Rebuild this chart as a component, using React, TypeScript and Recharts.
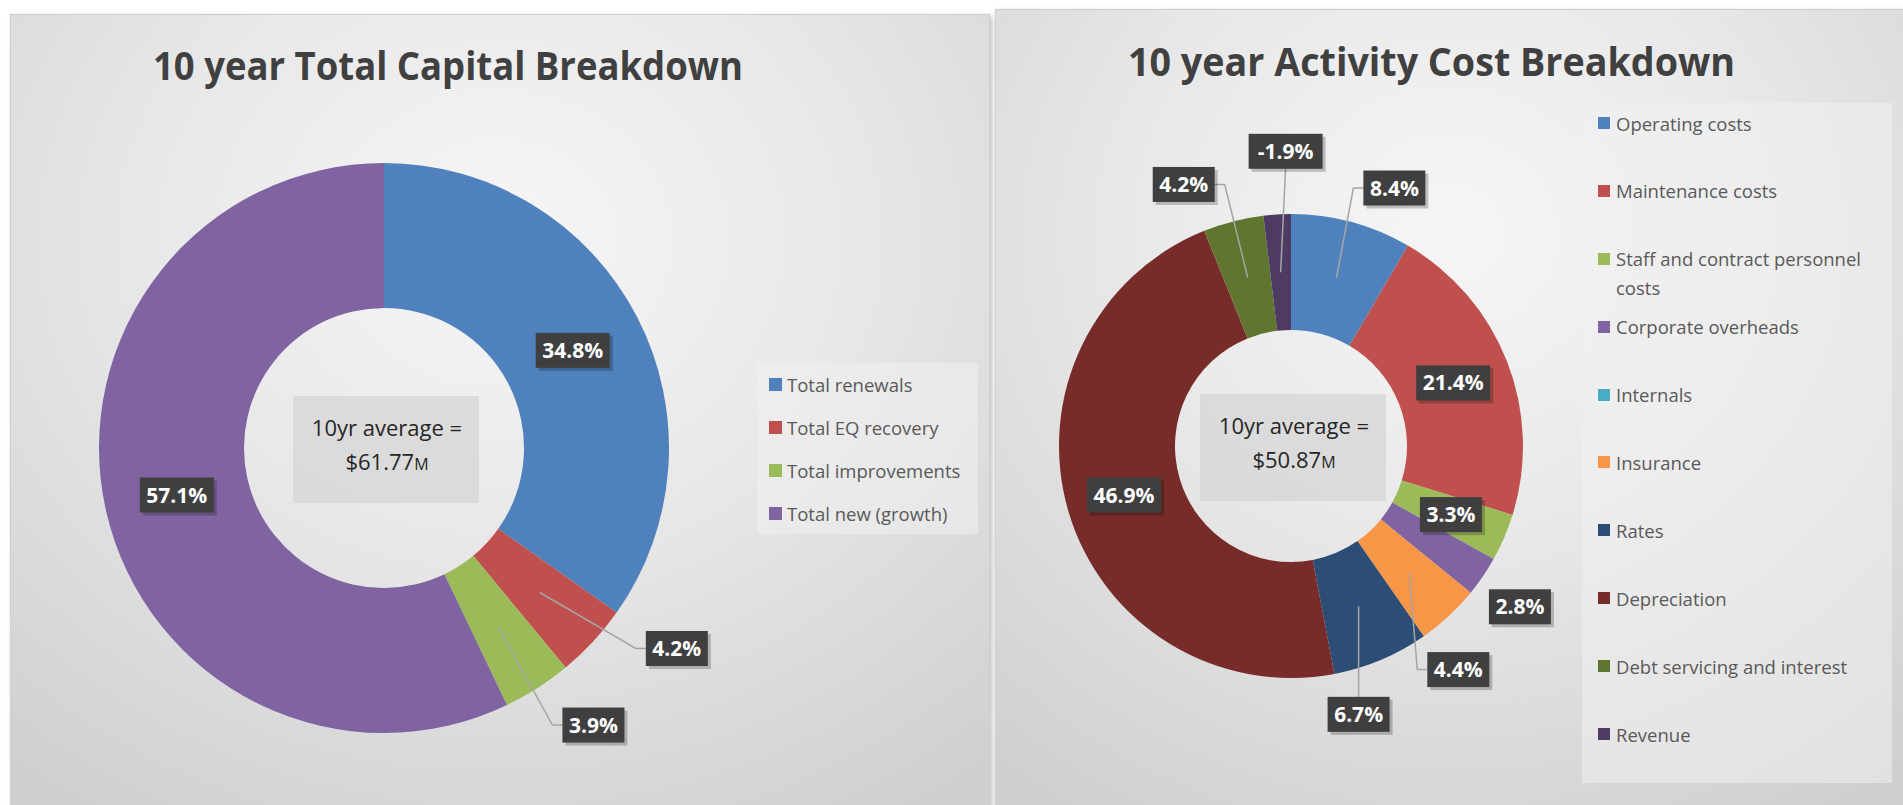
import React from 'react';
import { PieChart, Pie, Cell, Legend } from 'recharts';

// left chart: capital breakdown (% of 10yr total)
const capitalNames = ['Total renewals', 'Total EQ recovery', 'Total improvements', 'Total new (growth)'];
const capitalValues = [34.8, 4.2, 3.9, 57.1];
const capitalColors = ['#4f81bd', '#c0504d', '#9bbb59', '#8064a2'];
const capitalAverage = '$61.77';

// right chart: activity cost breakdown (% of 10yr total)
const activityNames = [
  'Operating costs',
  'Maintenance costs',
  'Staff and contract personnel costs',
  'Corporate overheads',
  'Internals',
  'Insurance',
  'Rates',
  'Depreciation',
  'Debt servicing and interest',
  'Revenue',
];
const activityValues = [8.4, 21.4, 3.3, 2.8, 0, 4.4, 6.7, 46.9, 4.2, -1.9];
const activityColors = [
  '#4f81bd', '#c0504d', '#9bbb59', '#8064a2', '#4bacc6',
  '#f79646', '#2c4d75', '#772c2a', '#5f7530', '#4d3b62',
];
const activityAverage = '$50.87';

// label offsets from the slice centroid (null = no label)
type Place = { dx: number; dy: number; leader: boolean } | null;
const capitalPlaces: Place[] = [
  { dx: 0, dy: 0, leader: false },
  { dx: 137, dy: 56, leader: true },
  { dx: 95, dy: 98, leader: true },
  { dx: 0, dy: 0, leader: false },
];
const activityPlaces: Place[] = [
  { dx: 58, dy: -90, leader: true },
  { dx: 0, dy: 0, leader: false },
  { dx: 0, dy: 0, leader: false },
  { dx: 85, dy: 63, leader: false },
  null,
  { dx: 49, dy: 96, leader: true },
  { dx: 0, dy: 108, leader: true },
  { dx: 0, dy: 0, leader: false },
  { dx: -64, dy: -93, leader: true },
  { dx: 5, dy: -121, leader: true },
];

const RAD = Math.PI / 180;
const FONT = '"Open Sans", "DejaVu Sans", sans-serif';
const panelBg =
  'radial-gradient(ellipse 80% 85% at 50% 28%, #f6f6f6 0%, #e8e8e8 45%, #cfcfcf 100%)';

function makeLabel(values: number[], places: Place[]) {
  return (props: any) => {
    const { cx, cy, midAngle, innerRadius, outerRadius, index } = props;
    const place = places[index];
    if (!place) return null;
    const r = (innerRadius + outerRadius) / 2;
    const sx = cx + r * Math.cos(-midAngle * RAD);
    const sy = cy + r * Math.sin(-midAngle * RAD);
    const bx = sx + place.dx;
    const by = sy + place.dy;
    const text = `${values[index].toFixed(1)}%`;
    const w = text.length * 12 + 14;
    const h = 35;
    let leader = null;
    if (place.leader) {
      if (Math.abs(bx - sx) <= w / 2) {
        const ey = by > sy ? by - h / 2 : by + h / 2;
        leader = <polyline points={`${sx},${sy} ${bx},${ey}`} fill="none" stroke="#a5a5a5" strokeWidth={1.5} />;
      } else {
        const edge = bx > sx ? bx - w / 2 : bx + w / 2;
        const elbow = bx > sx ? edge - 10 : edge + 10;
        leader = (
          <polyline
            points={`${sx},${sy} ${elbow},${by} ${edge},${by}`}
            fill="none"
            stroke="#a5a5a5"
            strokeWidth={1.5}
          />
        );
      }
    }
    return (
      <g key={`lbl-${index}`}>
        {leader}
        <rect x={bx - w / 2 + 3} y={by - h / 2 + 3} width={w} height={h} fill="rgba(0,0,0,0.22)" />
        <rect x={bx - w / 2} y={by - h / 2} width={w} height={h} fill="#3f3f3f" />
        <text
          x={bx}
          y={by + 7.5}
          textAnchor="middle"
          fill="#ffffff"
          fontFamily={FONT}
          fontWeight={700}
          fontSize={21}
        >
          {text}
        </text>
      </g>
    );
  };
}

// legend keeps the data order (recharts sorts its payload by name)
function makeLegend(names: string[], colors: string[], opts: any) {
  return () => (
    <div
      style={{
        width: opts.width,
        height: opts.height,
        boxSizing: 'border-box',
        paddingTop: opts.padTop,
        paddingLeft: opts.padLeft,
        background: 'rgba(240,240,240,0.55)',
        fontFamily: FONT,
        fontSize: opts.fontSize,
        color: '#595959',
        textAlign: 'left',
      }}
    >
      {names.map((name, i) => (
        <div key={name} style={{ display: 'flex', alignItems: 'flex-start', height: opts.rowH }}>
          <span
            style={{
              flex: 'none',
              width: opts.marker,
              height: opts.marker,
              marginTop: opts.lineH / 2 - opts.marker / 2,
              background: colors[i],
            }}
          />
          <span style={{ marginLeft: opts.gap, lineHeight: `${opts.lineH}px`, maxWidth: opts.textW }}>{name}</span>
        </div>
      ))}
    </div>
  );
}

function Donut(p: {
  left: number; top: number; width: number; height: number;
  cx: number; cy: number; inner: number; outer: number;
  names: string[]; values: number[]; colors: string[]; places: Place[];
  title: string; titleX: number; titleY: number; titleW: number;
  average: string; legendBox: any; legendOpts: any;
}) {
  const rows = p.names.map((name, i) => ({ name, share: Math.abs(p.values[i]) }));
  return (
    <div
      style={{
        position: 'absolute',
        left: p.left,
        top: p.top,
        width: p.width,
        height: p.height,
        background: panelBg,
        border: '1px solid #cfcfcf',
        boxShadow: '2px 2px 5px rgba(0,0,0,0.25)',
        boxSizing: 'border-box',
      }}
    >
      <PieChart width={p.width - 2} height={p.height - 2} margin={{ top: 0, right: 0, bottom: 0, left: 0 }}>
        <Pie
          data={rows}
          dataKey="share"
          nameKey="name"
          cx={p.cx}
          cy={p.cy}
          innerRadius={p.inner}
          outerRadius={p.outer}
          startAngle={90}
          endAngle={-270}
          stroke="none"
          labelLine={false}
          label={makeLabel(p.values, p.places)}
          isAnimationActive={false}
        >
          {rows.map((r, i) => (
            <Cell key={r.name} fill={p.colors[i]} />
          ))}
        </Pie>
        <Legend
          layout="vertical"
          align="right"
          verticalAlign="middle"
          content={makeLegend(p.names, p.colors, p.legendOpts)}
          wrapperStyle={{ left: p.legendBox.left, top: p.legendBox.top, width: p.legendBox.width, height: p.legendBox.height }}
        />
      </PieChart>
      <svg
        width={p.width - 2}
        height={p.height - 2}
        style={{ position: 'absolute', left: 0, top: 0, pointerEvents: 'none' }}
      >
        <text
          x={p.titleX}
          y={p.titleY}
          textLength={p.titleW}
          lengthAdjust="spacingAndGlyphs"
          fontFamily={FONT}
          fontWeight={700}
          fontSize={39}
          fill="#404040"
        >
          {p.title}
        </text>
        <rect x={p.cx - 91} y={p.cy - 52} width={186} height={107} fill="#d6d6d6" opacity={0.75} />
        <text x={p.cx + 3} y={p.cy - 12} textAnchor="middle" fontFamily={FONT} fontSize={22} fill="#262626">
          10yr average =
        </text>
        <text x={p.cx + 3} y={p.cy + 22} textAnchor="middle" fontFamily={FONT} fontSize={22} fill="#262626">
          {p.average}
          <tspan fontSize={16}>M</tspan>
        </text>
      </svg>
    </div>
  );
}

export default function App() {
  return (
    <div style={{ position: 'fixed', left: 0, top: 0, width: 1903, height: 805, background: '#ffffff', overflow: 'hidden' }}>
      <Donut
        left={10}
        top={14}
        width={980}
        height={800}
        cx={373}
        cy={433}
        inner={140}
        outer={285}
        names={capitalNames}
        values={capitalValues}
        colors={capitalColors}
        places={capitalPlaces}
        title="10 year Total Capital Breakdown"
        titleX={142}
        titleY={65}
        titleW={590}
        average={capitalAverage}
        legendBox={{ left: 746, top: 348, width: 221, height: 171 }}
        legendOpts={{ width: 221, height: 171, padTop: 0, padLeft: 12, rowH: 43, lineH: 43, marker: 13, gap: 5, fontSize: 18.5, textW: 200 }}
      />
      <Donut
        left={995}
        top={9}
        width={910}
        height={805}
        cx={295}
        cy={436}
        inner={116}
        outer={232}
        names={activityNames}
        values={activityValues}
        colors={activityColors}
        places={activityPlaces}
        title="10 year Activity Cost Breakdown"
        titleX={132}
        titleY={66}
        titleW={607}
        average={activityAverage}
        legendBox={{ left: 586, top: 93, width: 310, height: 680 }}
        legendOpts={{ width: 310, height: 680, padTop: 5.5, padLeft: 16, rowH: 67.9, lineH: 29, marker: 12, gap: 6, fontSize: 18.5, textW: 275 }}
      />
    </div>
  );
}
